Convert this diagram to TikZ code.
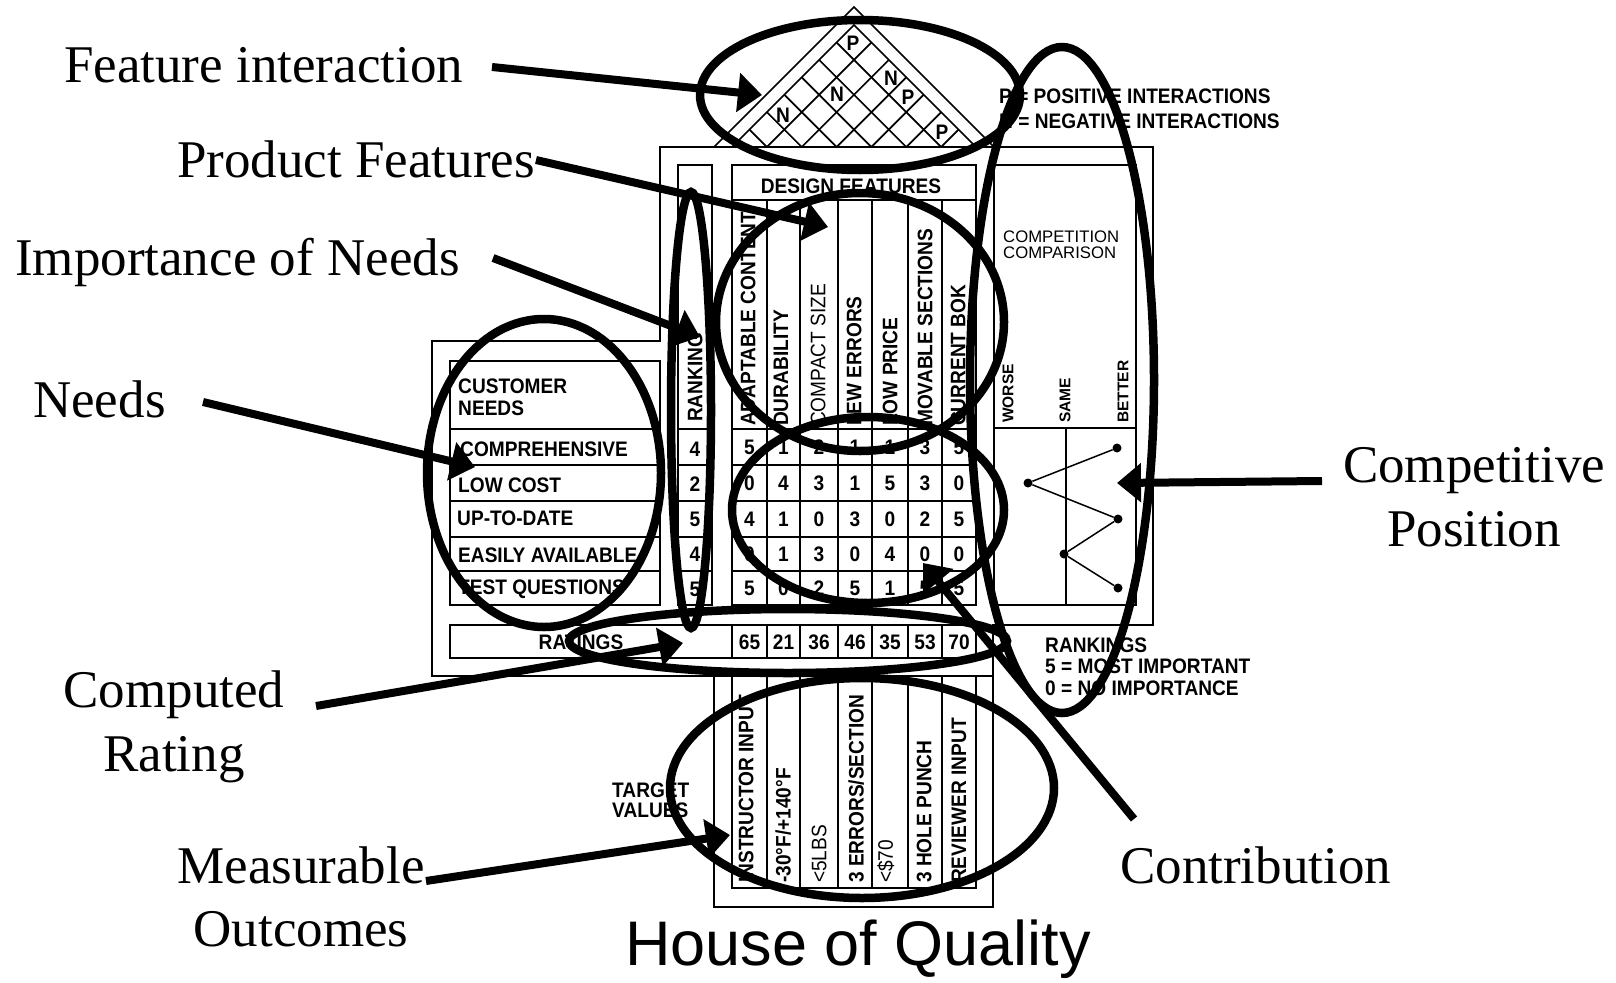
\documentclass[tikz,border=0pt]{standalone}
\usepackage{fontspec}
\setmainfont{Liberation Serif}
\newfontfamily\hqSans{Liberation Sans}
\newfontfamily\hqNarrow[FakeStretch=0.91]{Liberation Sans}
\usetikzlibrary{arrows.meta}
\newcommand\hqTab{\hqNarrow\bfseries\fontsize{21pt}{23pt}\selectfont}
\newcommand\hqTabLight{\hqNarrow\mdseries\fontsize{21pt}{23pt}\selectfont}
\newcommand\hqSmall{\hqSans\fontsize{16.7pt}{19pt}\selectfont}
\newcommand\hqScale{\hqSans\bfseries\fontsize{15.5pt}{18pt}\selectfont}
\newcommand\hqBig{\fontsize{53pt}{60pt}\selectfont}
\newcommand\hqTitle{\hqSans\fontsize{63pt}{70pt}\selectfont}
\def\hqCols{{749.5,783.5,819,855,890,925,959}}

\begin{document}
\begin{tikzpicture}[x=1pt,y=-1pt,
  rule/.style={line width=1.7pt},
  cell/.style={inner sep=0pt, font=\hqTab, anchor=base},
  celltext/.style={inner sep=0pt, font=\hqTab, anchor=base west},
  vhead/.style={inner sep=0pt, font=\hqTab, rotate=90, anchor=west, text depth=0pt},
  biglabel/.style={inner sep=0pt, font=\hqBig, anchor=base west},
  bigline/.style={inner sep=0pt, font=\hqBig, anchor=base},
  ring/.style={line width=8.5pt},
  callout/.style={line width=8pt, -{Triangle[length=24pt,width=38pt]}},
  gdot/.style={circle, fill, inner sep=0pt, minimum size=9pt}]

\fill[white] (0,0) rectangle (1616,982);
\useasboundingbox (0,0) rectangle (1616,982);

% ---------- roof: correlation matrix ----------
\draw[rule] (714,147) -- (854,7) -- (994,147);
\draw[rule] (732,147) -- (854,25) -- (976,147);
\foreach \k in {1,...,6} {
  \pgfmathsetmacro\bx{732+\k*34.857}
  \draw[rule] (\bx,147) -- ({(\bx+976)/2},{147-(976-\bx)/2});
  \draw[rule] (\bx,147) -- ({(\bx+732)/2},{147-(\bx-732)/2});
}
\node[cell, anchor=center] (rfP1) at (853,43) {P};
\node[cell, anchor=center] (rfN1) at (891,78) {N};
\node[cell, anchor=center] (rfP2) at (908,97) {P};
\node[cell, anchor=center] (rfP3) at (942,132) {P};
\node[cell, anchor=center] (rfN2) at (837,94) {N};
\node[cell, anchor=center] (rfN3) at (783,115) {N};

\node[celltext] (legP) at (999,103) {P = POSITIVE INTERACTIONS};
\node[celltext] (legN) at (999,128) {N = NEGATIVE INTERACTIONS};

% ---------- outline of the house ----------
\draw[rule] (660,147) -- (1153,147) -- (1153,625) -- (993,625) -- (993,676)
  -- (432,676) -- (432,341) -- (660,341) -- cycle;
\draw[rule] (714,676) rectangle (993,907);

% ranking column
\draw[rule] (678,165) rectangle (712,605);
\foreach \yy in {429,465,501,537,571} \draw[rule] (678,\yy) -- (712,\yy);

% design feature matrix
\draw[rule] (732,165) rectangle (976,605);
\draw[rule] (732,200) -- (976,200);
\foreach \xx in {767,800,838,872,908,942} \draw[rule] (\xx,200) -- (\xx,605);
\foreach \yy in {429,465,501,537,571} \draw[rule] (732,\yy) -- (976,\yy);

% customer needs
\draw[rule] (450,361) rectangle (660,605);
\foreach \yy in {429,465,501,537,571} \draw[rule] (450,\yy) -- (660,\yy);

% ratings row
\draw[rule] (450,625) rectangle (976,658);
\foreach \xx in {732,767,800,838,872,908,942} \draw[rule] (\xx,625) -- (\xx,658);

% competition comparison
\draw[rule] (994,165) rectangle (1136,605);
\draw[rule] (994,428) -- (1136,428);
\draw[rule] (1066,428) -- (1066,605);

% target values
\draw[rule] (732,676) rectangle (976,888);
\foreach \xx in {767,800,838,872,908,942} \draw[rule] (\xx,676) -- (\xx,888);

% ---------- texts of the table ----------
\node[cell] (hdDesign) at (851,193) {DESIGN FEATURES};

\node[vhead] (hdRank) at (695,422) {RANKING};
\node[vhead] (hdF1) at (748,426) {ADAPTABLE CONTENT};
\node[vhead] (hdF2) at (781,426) {DURABILITY};
\node[vhead, font=\hqTabLight] (hdF3) at (818,426) {COMPACT SIZE};
\node[vhead] (hdF4) at (854,426) {FEW ERRORS};
\node[vhead] (hdF5) at (890,426) {LOW PRICE};
\node[vhead] (hdF6) at (925,426) {MOVABLE SECTIONS};
\node[vhead] (hdF7) at (958,426) {CURRENT BOK};

\node[celltext] (cnA) at (458,393) {CUSTOMER};
\node[celltext] (cnB) at (458,415) {NEEDS};
\node[celltext] (nd1) at (460,456) {COMPREHENSIVE};
\node[celltext] (nd2) at (458,492) {LOW COST};
\node[celltext] (nd3) at (457,525) {UP-TO-DATE};
\node[celltext] (nd4) at (458,562) {EASILY AVAILABLE};
\node[celltext] (nd5) at (458,594) {TEST QUESTIONS};

\foreach \v/\yb [count=\i] in {4/456,2/491,5/526,4/561,5/596}
  \node[cell] (rk\i) at (695,\yb) {\v};

\foreach \yb/\vals in {454/{5,1,2,1,1,3,5},490/{0,4,3,1,5,3,0},526/{4,1,0,3,0,2,5},
                      561/{0,1,3,0,4,0,0},595/{5,0,2,5,1,5,5},649/{65,21,36,46,35,53,70}}
  \foreach \v [count=\c from 0] in \vals {
    \pgfmathsetmacro\xc{\hqCols[\c]}
    \node[cell] (m\yb-\c) at (\xc,\yb) {\v};
  }
\node[cell] (rtLabel) at (581,649) {RATINGS};

\node[inner sep=0pt, font=\hqSmall, anchor=base west] (ccA) at (1003,242) {COMPETITION};
\node[inner sep=0pt, font=\hqSmall, anchor=base west] (ccB) at (1003,258) {COMPARISON};
\node[vhead, font=\hqScale] (scW) at (1008,423) {WORSE};
\node[vhead, font=\hqScale] (scS) at (1065,423) {SAME};
\node[vhead, font=\hqScale] (scB) at (1123,423) {BETTER};

\node[gdot] (g1) at (1117,448) {};
\node[gdot] (g2) at (1028,483) {};
\node[gdot] (g3) at (1118,519) {};
\node[gdot] (g4) at (1064,554) {};
\node[gdot] (g5) at (1118,588) {};
\draw[line width=1.5pt] (g1) -- (g2) -- (g3) -- (g4) -- (g5);

\node[celltext] (rkA) at (1045,652) {RANKINGS};
\node[celltext] (rkB) at (1045,673) {5 = MOST IMPORTANT};
\node[celltext] (rkC) at (1045,695) {0 = NO IMPORTANCE};

\node[celltext] (tvA) at (612,797) {TARGET};
\node[celltext] (tvB) at (612,817) {VALUES};

\node[vhead] (tv1) at (746,883) {INSTRUCTOR INPUT};
\node[vhead] (tv2) at (783,883) {-30°F/+140°F};
\node[vhead, font=\hqTabLight] (tv3) at (819,883) {<5LBS};
\node[vhead] (tv4) at (856,883) {3 ERRORS/SECTION};
\node[vhead, font=\hqTabLight] (tv5) at (885,883) {<\$70};
\node[vhead] (tv6) at (924,883) {3 HOLE PUNCH};
\node[vhead] (tv7) at (959,883) {REVIEWER INPUT};

% ---------- callout labels ----------
\node[biglabel] (lbFeat) at (64,82) {Feature interaction};
\node[biglabel] (lbProd) at (177,177) {Product Features};
\node[biglabel] (lbImp) at (15,275) {Importance of Needs};
\node[biglabel] (lbNeeds) at (33,417) {Needs};
\node[bigline] (lbComp1) at (174,707) {Computed};
\node[bigline] (lbComp2) at (174,771) {Rating};
\node[bigline] (lbMeas1) at (301,883) {Measurable};
\node[bigline] (lbMeas2) at (301,946) {Outcomes};
\node[bigline] (lbPos1) at (1474,482) {Competitive};
\node[bigline] (lbPos2) at (1474,546) {Position};
\node[biglabel] (lbContr) at (1120,883) {Contribution};
\node[inner sep=0pt, font=\hqTitle, anchor=base west] (title) at (625,965) {House of Quality};

% ---------- highlight rings ----------
\draw[ring] (860,95) ellipse [x radius=160pt, y radius=75pt];
\draw[ring] (860,322) ellipse [x radius=144pt, y radius=129pt];
\draw[ring] (691,410) ellipse [x radius=20pt, y radius=218pt];
\draw[ring] (544,473) ellipse [x radius=117pt, y radius=154pt];
\draw[ring] (868,510) ellipse [x radius=136pt, y radius=93pt];
\draw[ring] (788,641) ellipse [x radius=219pt, y radius=32pt];
\draw[ring] (862,788) ellipse [x radius=192pt, y radius=110pt];
\draw[ring] (1062,380) ellipse [x radius=92pt, y radius=333pt];

% ---------- callout arrows ----------
\coordinate (fromFeat) at (492,67);   \coordinate (toFeat) at (762,95);
\coordinate (fromProd) at (536,160);  \coordinate (toProd) at (828,227);
\coordinate (fromImp) at (493,258);   \coordinate (toImp) at (700,337);
\coordinate (fromNeeds) at (203,402); \coordinate (toNeeds) at (475,467);
\coordinate (fromComp) at (316,706);  \coordinate (toComp) at (683,643);
\coordinate (fromMeas) at (426,881);  \coordinate (toMeas) at (730,835);
\coordinate (fromPos) at (1322,481);  \coordinate (toPos) at (1117,483);
\coordinate (fromContr) at (1134,819);\coordinate (toContr) at (923,563);

\draw[callout] (fromFeat) -- (toFeat);
\draw[callout] (fromProd) -- (toProd);
\draw[callout] (fromImp) -- (toImp);
\draw[callout] (fromNeeds) -- (toNeeds);
\draw[callout] (fromComp) -- (toComp);
\draw[callout] (fromMeas) -- (toMeas);
\draw[callout] (fromPos) -- (toPos);
\draw[callout] (fromContr) -- (toContr);
\end{tikzpicture}
\end{document}
